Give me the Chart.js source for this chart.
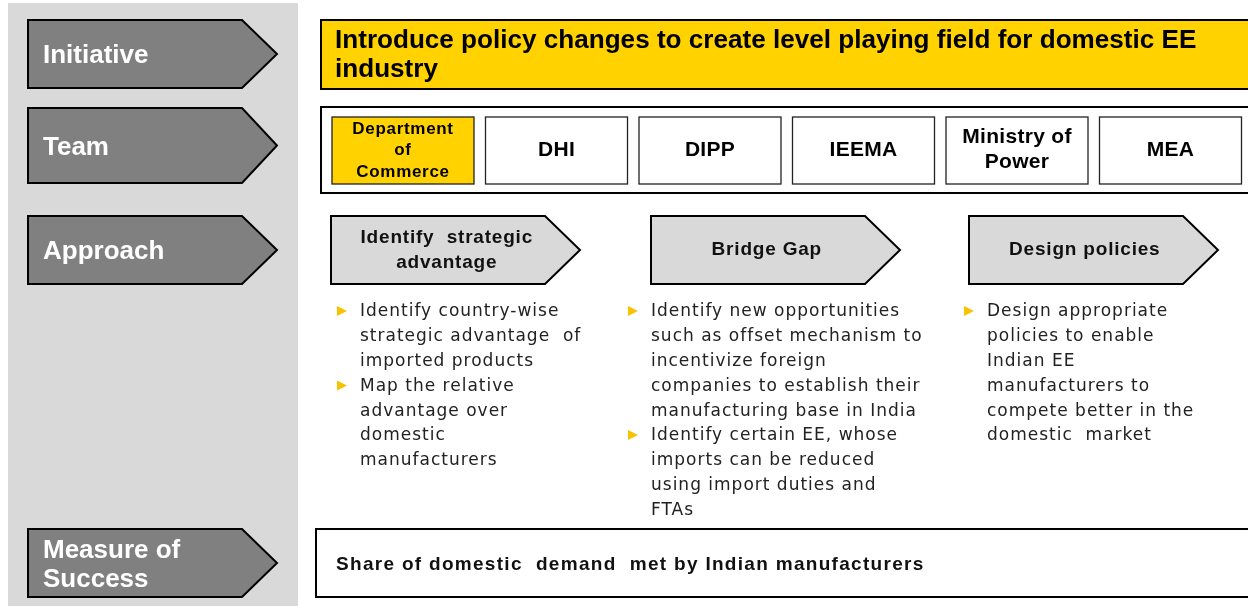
<!DOCTYPE html>
<html><head><meta charset="utf-8">
<script src="https://cdn.jsdelivr.net/npm/chart.js@4"></script>
<style>html,body{margin:0;padding:0;background:#fff;}#wrap{width:1248px;height:606px;}</style>
</head><body><div id="wrap"><canvas id="c" width="1248" height="606"></canvas></div>
<script>
// ---- content ----
const rowLabels = [["Initiative"], ["Team"], ["Approach"], ["Measure of", "Success"]];
const initiativeText = ["Introduce policy changes to create level playing field for domestic EE", "industry"];
const teamMembers = [["Department", "of", "Commerce"], ["DHI"], ["DIPP"], ["IEEMA"], ["Ministry of", "Power"], ["MEA"]];
const teamLead = [true, false, false, false, false, false];
const approachSteps = [["Identify  strategic", "advantage"], ["Bridge Gap"], ["Design policies"]];
const approachBullets = [
  [["Identify country-wise", "strategic advantage  of", "imported products"], ["Map the relative", "advantage over", "domestic", "manufacturers"]],
  [["Identify new opportunities", "such as offset mechanism to", "incentivize foreign", "companies to establish their", "manufacturing base in India"], ["Identify certain EE, whose", "imports can be reduced", "using import duties and", "FTAs"]],
  [["Design appropriate", "policies to enable", "Indian EE", "manufacturers to", "compete better in the", "domestic  market"]]
];
const measureText = ["Share of domestic  demand  met by Indian manufacturers"];

const YELLOW = '#ffd200', DARK = '#808080', LIGHT = '#d9d9d9';

function arrowPath(ctx, x0, y0, x1, y1, tip) {
  const ym = (y0 + y1) / 2;
  ctx.beginPath();
  ctx.moveTo(x0, y0); ctx.lineTo(x1 - tip, y0); ctx.lineTo(x1, ym);
  ctx.lineTo(x1 - tip, y1); ctx.lineTo(x0, y1); ctx.closePath();
}
function rect(ctx, x0, y0, x1, y1, fill, lw, stroke) {
  ctx.fillStyle = fill; ctx.fillRect(x0, y0, x1 - x0, y1 - y0);
  if (lw) { ctx.lineWidth = lw; ctx.strokeStyle = stroke || '#000'; ctx.strokeRect(x0, y0, x1 - x0, y1 - y0); }
}
function txt(ctx, s, x, y, font, color, align, spacing) {
  ctx.font = font; ctx.fillStyle = color; ctx.textAlign = align || 'left'; ctx.textBaseline = 'middle';
  ctx.letterSpacing = (spacing || 0) + 'px';
  ctx.fillText(s, x, y);
  ctx.letterSpacing = '0px';
}

const diagram = {
  id: 'diagram',
  afterDraw(chart) {
    const ctx = chart.ctx, X = v => chart.scales.x.getPixelForValue(v), Y = v => chart.scales.y.getPixelForValue(v);
    ctx.save();
    ctx.lineJoin = 'miter';
    // left panel
    rect(ctx, X(8), Y(3), X(298), Y(606), LIGHT);
    const rowY = [[20, 88], [108, 183], [216, 284], [529, 597]];
    rowLabels.forEach((lab, i) => {
      const [a, b] = rowY[i];
      arrowPath(ctx, X(28), Y(a), X(277), Y(b), 35);
      ctx.fillStyle = DARK; ctx.fill(); ctx.lineWidth = 2; ctx.strokeStyle = '#000'; ctx.stroke();
      const mid = (a + b) / 2, lh = 29;
      lab.forEach((s, k) => txt(ctx, s, X(43), Y(mid + (k - (lab.length - 1) / 2) * lh + 2), 'bold 26px "Liberation Sans"', '#fff'));
    });
    // initiative
    rect(ctx, X(321), Y(20), X(1252), Y(89), YELLOW, 2);
    initiativeText.forEach((s, k) => txt(ctx, s, X(335), Y(41 + k * 29), 'bold 26.1px "Liberation Sans"', '#000', 'left', 0));
    // team
    rect(ctx, X(321), Y(107), X(1252), Y(193), '#fff', 2);
    teamMembers.forEach((m, i) => {
      const x0 = 332 + i * 153.5, x1 = x0 + 142;
      rect(ctx, X(x0), Y(117), X(x1), Y(184), teamLead[i] ? YELLOW : '#fff', 1.3, '#222');
      const cx = (x0 + x1) / 2;
      if (m.length === 3) {
        m.forEach((s, k) => txt(ctx, s, X(cx), Y(129 + k * 21.5), 'bold 17px "Liberation Sans"', '#000', 'center', 0.7));
      } else {
        m.forEach((s, k) => txt(ctx, s, X(cx), Y(150 + (k - (m.length - 1) / 2) * 25), 'bold 21px "Liberation Sans"', '#000', 'center', 0.3));
      }
    });
    // approach
    const bulletTextX = [360, 651, 987];
    approachSteps.forEach((st, i) => {
      const x0 = [331, 651, 969][i], x1 = x0 + 249;
      arrowPath(ctx, X(x0), Y(216), X(x1), Y(284), 35);
      ctx.fillStyle = LIGHT; ctx.fill(); ctx.lineWidth = 2; ctx.strokeStyle = '#000'; ctx.stroke();
      const cx = x0 + 0.465 * 249;
      st.forEach((s, k) => txt(ctx, s, X(cx), Y(250 + (k - (st.length - 1) / 2) * 25), 'bold 19px "Liberation Sans"', '#111', 'center', 0.8));
      // bullets
      let line = 0;
      const tx = bulletTextX[i];
      approachBullets[i].forEach(b => {
        b.forEach((s, k) => {
          const y = 311 + line * 24.8;
          if (k === 0) {
            const bx = tx - 23;
            ctx.beginPath(); ctx.moveTo(X(bx), Y(y - 5)); ctx.lineTo(X(bx + 10), Y(y)); ctx.lineTo(X(bx), Y(y + 5)); ctx.closePath();
            ctx.fillStyle = '#f7c200'; ctx.fill();
          }
          txt(ctx, s, X(tx), Y(y + 1), '17px "DejaVu Sans"', '#222', 'left', 1.0);
          line++;
        });
      });
    });
    // measure
    rect(ctx, X(316), Y(529), X(1252), Y(597), '#fff', 2);
    txt(ctx, measureText[0], X(336), Y(565), 'bold 19px "Liberation Sans"', '#111', 'left', 1.3);
    ctx.restore();
  }
};

new Chart(document.getElementById('c'), {
  type: 'scatter',
  data: { datasets: [{ data: [] }] },
  options: {
    responsive: false, animation: false, events: [],
    layout: { padding: 0 },
    plugins: { legend: { display: false }, tooltip: { enabled: false } },
    scales: {
      x: { type: 'linear', min: 0, max: 1248, display: false },
      y: { type: 'linear', min: 0, max: 606, reverse: true, display: false }
    }
  },
  plugins: [diagram]
});
</script></body></html>
